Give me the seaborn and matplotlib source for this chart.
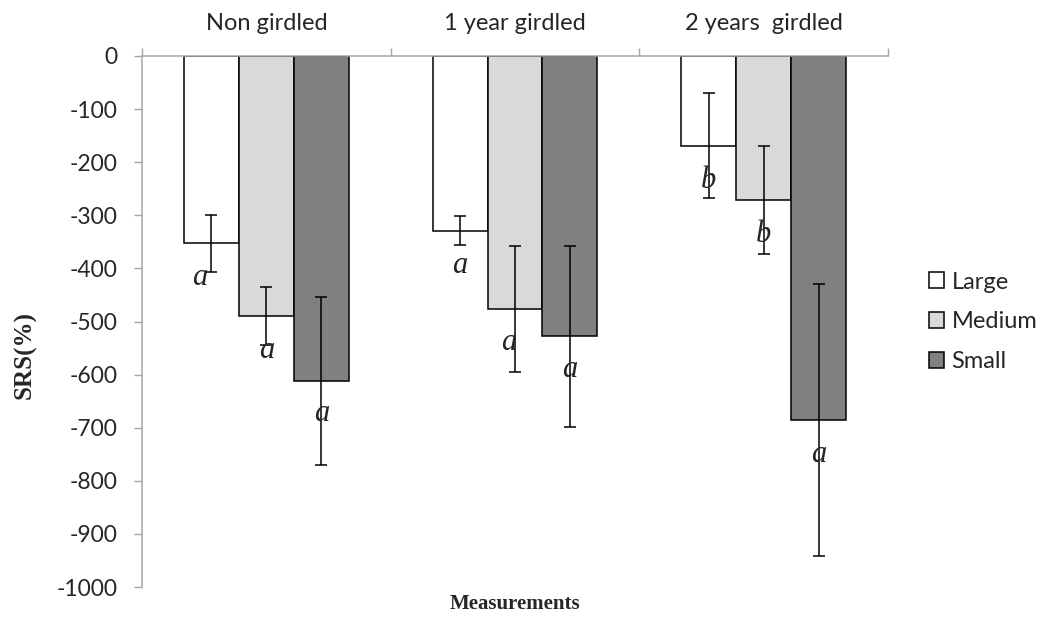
import numpy as np
import pandas as pd
import matplotlib
matplotlib.use("Agg")
import matplotlib.pyplot as plt
import seaborn as sns
from matplotlib.patches import Patch

# ---- data ----
treatments = ["Non girdled", "1 year girdled", "2 years  girdled"]
sizes = ["Large", "Medium", "Small"]

srs_large = [-353, -329, -169]
srs_medium = [-490, -476, -271]
srs_small = [-612, -528, -686]

err_large = [53, 27, 99]
err_medium = [55, 119, 102]
err_small = [159, 171, 256]

letters_large = ["a", "a", "b"]
letters_medium = ["a", "a", "b"]
letters_small = ["a", "a", "a"]

# baseline height of each significance letter (SRS units)
letter_y_large = [-431, -409, -249]
letter_y_medium = [-569, -554, -350]
letter_y_small = [-687, -604, -764]
# small horizontal nudge of each letter (category units)
letter_dx_large = [-0.048, 0.0, 0.0]
letter_dx_medium = [0.0, -0.024, 0.0]
letter_dx_small = [0.0, 0.0, 0.0]

y_ticks = list(range(-1000, 1, 100))

colors = {"Large": "#ffffff", "Medium": "#d9d9d9", "Small": "#808080"}

# ---- long-format table ----
values = {"Large": srs_large, "Medium": srs_medium, "Small": srs_small}
errors = {"Large": err_large, "Medium": err_medium, "Small": err_small}
letters = {"Large": letters_large, "Medium": letters_medium, "Small": letters_small}
letter_y = {"Large": letter_y_large, "Medium": letter_y_medium, "Small": letter_y_small}
letter_dx = {"Large": letter_dx_large, "Medium": letter_dx_medium, "Small": letter_dx_small}

df = pd.DataFrame(
    [(t, s, values[s][i]) for s in sizes for i, t in enumerate(treatments)],
    columns=["Treatment", "Size", "SRS"],
)

sns.set_style("white")
plt.rcParams["font.family"] = ["Lato", "DejaVu Sans"]

W, H = 1045, 621
fig = plt.figure(figsize=(W / 100, H / 100), dpi=100)
ax = fig.add_axes([142 / W, 1 - 587 / H, (888 - 142) / W, (587 - 56) / H])

sns.barplot(
    data=df, x="Treatment", y="SRS", hue="Size",
    order=treatments, hue_order=sizes, palette=colors,
    saturation=1, width=0.663, errorbar=None,
    edgecolor="black", linewidth=1.1, legend=False, ax=ax,
)

# error bars and significance letters on top of each bar
for size, container in zip(sizes, ax.containers):
    for i, bar in enumerate(container):
        xc = bar.get_x() + bar.get_width() / 2
        yv = bar.get_y() + bar.get_height()
        ax.errorbar(xc, yv, yerr=errors[size][i], fmt="none", ecolor="black",
                    elinewidth=1.1, capsize=4.3, capthick=1.1, zorder=5)
        ax.text(xc + letter_dx[size][i], letter_y[size][i], letters[size][i],
                fontfamily="Liberation Serif", style="italic", fontsize=22,
                ha="center", va="baseline", zorder=6)

grey = "#a6a6a6"
ax.set_ylim(-1000, 0)
ax.set_xlim(-0.5, 2.5)
ax.set_yticks(y_ticks)
ax.set_yticklabels([str(v) for v in y_ticks])

ax.xaxis.tick_top()
ax.set_xticks([0, 1, 2])
ax.set_xticklabels(treatments)
ax.set_xticks([-0.5, 0.5, 1.5, 2.5], minor=True)
ax.tick_params(axis="x", which="major", direction="in", length=4, width=1,
               color=grey, pad=16, labelsize=17, top=True, bottom=False,
               labeltop=True, labelbottom=False)
ax.tick_params(axis="x", which="minor", direction="out", length=6, width=1,
               color=grey, top=True, bottom=False)
ax.tick_params(axis="y", which="major", direction="out", length=6, width=1,
               color=grey, pad=11.5, labelsize=16.5, left=True)

for side in ("right", "bottom"):
    ax.spines[side].set_visible(False)
for side in ("top", "left"):
    ax.spines[side].set_color(grey)
    ax.spines[side].set_linewidth(1.1)

ax.set_xlabel("")
ax.set_ylabel("")
fig.text(515 / W, 1 - 604 / H, "Measurements", fontfamily="Liberation Serif",
         fontweight="bold", fontsize=15, ha="center", va="center")
fig.text(25 / W, 1 - 355 / H, "SRS(%)", fontfamily="Liberation Serif",
         fontweight="bold", fontsize=18, rotation=90, ha="center", va="center")

handles = [Patch(facecolor=colors[s], edgecolor="black", linewidth=1.1) for s in sizes]
fig.legend(handles, sizes, loc="center left", bbox_to_anchor=(929 / W, 1 - 322 / H),
           frameon=False, fontsize=17, handlelength=0.65, handleheight=0.65,
           handletextpad=0.3, labelspacing=0.8, borderpad=0, borderaxespad=0)

fig.savefig("out.png", dpi=100, facecolor="white")
